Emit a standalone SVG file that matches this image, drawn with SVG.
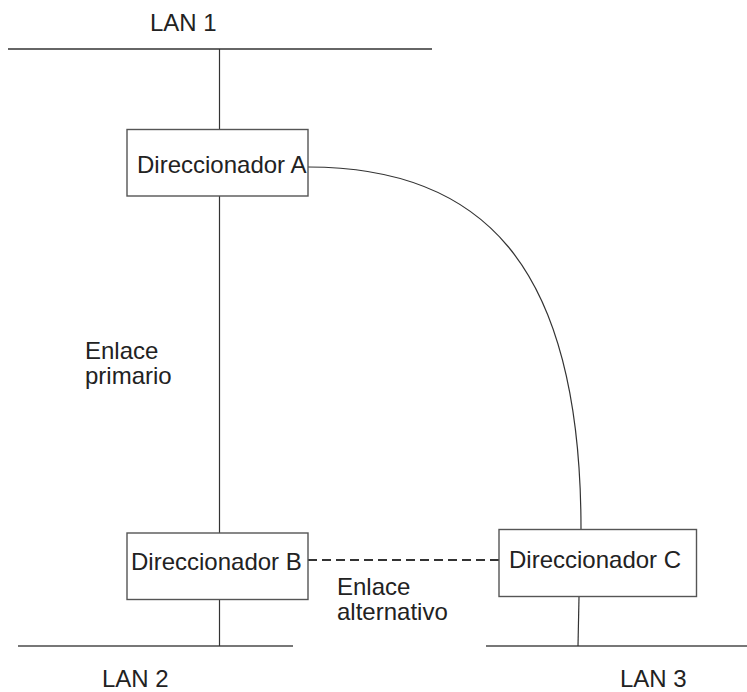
<svg xmlns="http://www.w3.org/2000/svg" width="747" height="692" viewBox="0 0 747 692">
  <style>
    text { font-family: "Liberation Sans", Arial, sans-serif; font-size: 24px; fill: #222; }
    .lan { stroke: #777; stroke-width: 2; fill: none; }
    .box { fill: #fff; stroke: #555; stroke-width: 1.4; }
    .link { stroke: #333; stroke-width: 1.2; fill: none; }
    .alt { stroke: #333; stroke-width: 1.8; fill: none; stroke-dasharray: 9 5; }
  </style>
  <rect width="747" height="692" fill="#fff"/>

  <!-- LAN segments -->
  <g id="lans">
    <line class="lan" x1="8" y1="49" x2="432" y2="49" style="stroke:#333;stroke-width:1.4"/>
    <text x="150" y="31">LAN 1</text>
    <line class="lan" x1="18" y1="646" x2="293" y2="646"/>
    <text x="102" y="687">LAN 2</text>
    <line class="lan" x1="486" y1="646" x2="747" y2="646"/>
    <text x="620" y="687">LAN 3</text>
  </g>

  <!-- links between routers and LANs -->
  <g id="connectors">
    <line class="link" x1="219.5" y1="49" x2="219.5" y2="129"/>
    <line class="link" x1="219.5" y1="196" x2="219.5" y2="533"/>
    <line class="link" x1="219.5" y1="599" x2="219.5" y2="646"/>
    <path class="link" d="M308,167 C478,167 581,259 581,529"/>
    <line class="link" x1="579" y1="597" x2="578" y2="646"/>
    <line class="alt" x1="308" y1="560" x2="499" y2="560"/>
    <text x="85" y="359">Enlace</text>
    <text x="85" y="384">primario</text>
    <text x="337" y="595">Enlace</text>
    <text x="337" y="620">alternativo</text>
  </g>

  <g id="router-a">
    <rect class="box" x="127" y="129.5" width="181" height="66.5"/>
    <text x="137" y="173">Direccionador A</text>
  </g>

  <g id="router-b">
    <rect class="box" x="127" y="533" width="181" height="66.5"/>
    <text x="131" y="570">Direccionador B</text>
  </g>

  <g id="router-c">
    <rect class="box" x="499" y="529.5" width="197.5" height="67"/>
    <text x="509" y="568">Direccionador C</text>
  </g>
</svg>
